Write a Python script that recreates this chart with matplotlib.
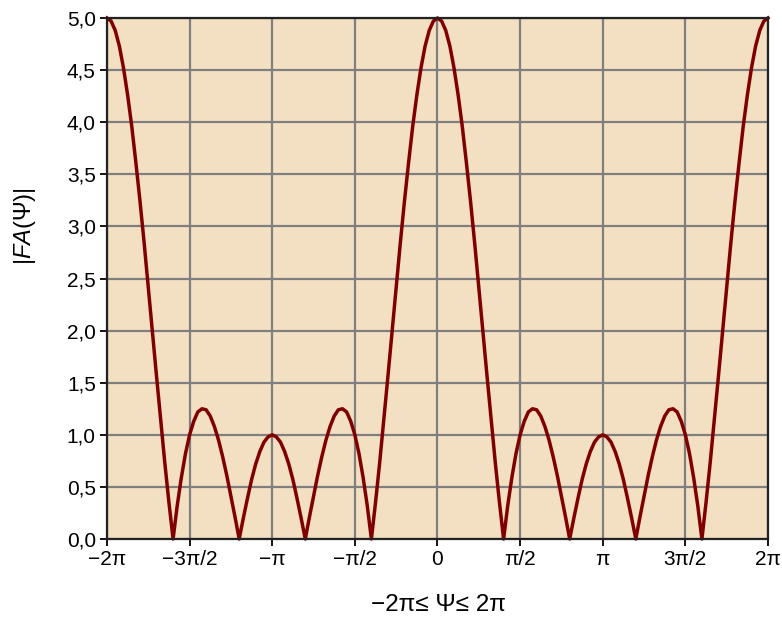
import matplotlib
matplotlib.use("Agg")
import matplotlib.pyplot as plt
import numpy as np

plt.rcParams["font.family"] = ["Liberation Sans", "DejaVu Sans"]
plt.rcParams["mathtext.fontset"] = "custom"
plt.rcParams["mathtext.it"] = "Liberation Sans:italic"
plt.rcParams["mathtext.rm"] = "Liberation Sans"

# sample grid: psi from -2pi to 2pi in steps of pi/40 (units of pi)
psi_pi = np.linspace(-2.0, 2.0, 161)

# |FA(psi)|, left to right
fa_abs = [
    5.00, 4.97, 4.88, 4.73, 4.52, 4.26, 3.96, 3.61, 3.24, 2.84,
    2.41, 1.99, 1.56, 1.14, 0.73, 0.35, 0.00, 0.32, 0.59, 0.82,
    1.00, 1.13, 1.22, 1.25, 1.24, 1.18, 1.08, 0.95, 0.79, 0.61,
    0.41, 0.21, 0.00, 0.20, 0.39, 0.57, 0.72, 0.84, 0.93, 0.98,
    1.00, 0.98, 0.93, 0.84, 0.72, 0.57, 0.39, 0.20, 0.00, 0.21,
    0.41, 0.61, 0.79, 0.95, 1.08, 1.18, 1.24, 1.25, 1.22, 1.13,
    1.00, 0.82, 0.59, 0.32, 0.00, 0.35, 0.73, 1.14, 1.56, 1.99,
    2.41, 2.84, 3.24, 3.61, 3.96, 4.26, 4.52, 4.73, 4.88, 4.97,
    5.00, 4.97, 4.88, 4.73, 4.52, 4.26, 3.96, 3.61, 3.24, 2.84,
    2.41, 1.99, 1.56, 1.14, 0.73, 0.35, 0.00, 0.32, 0.59, 0.82,
    1.00, 1.13, 1.22, 1.25, 1.24, 1.18, 1.08, 0.95, 0.79, 0.61,
    0.41, 0.21, 0.00, 0.20, 0.39, 0.57, 0.72, 0.84, 0.93, 0.98,
    1.00, 0.98, 0.93, 0.84, 0.72, 0.57, 0.39, 0.20, 0.00, 0.21,
    0.41, 0.61, 0.79, 0.95, 1.08, 1.18, 1.24, 1.25, 1.22, 1.13,
    1.00, 0.82, 0.59, 0.32, 0.00, 0.35, 0.73, 1.14, 1.56, 1.99,
    2.41, 2.84, 3.24, 3.61, 3.96, 4.26, 4.52, 4.73, 4.88, 4.97,
    5.00,
]

xtick_pos = [-2.0, -1.5, -1.0, -0.5, 0.0, 0.5, 1.0, 1.5, 2.0]
xtick_labels = ["\u22122\u03c0", "\u22123\u03c0/2", "\u2212\u03c0", "\u2212\u03c0/2", "0",
                "\u03c0/2", "\u03c0", "3\u03c0/2", "2\u03c0"]
ytick_pos = [0.0, 0.5, 1.0, 1.5, 2.0, 2.5, 3.0, 3.5, 4.0, 4.5, 5.0]
ytick_labels = [f"{v:.1f}".replace(".", ",") for v in ytick_pos]

fig = plt.figure(figsize=(7.82, 6.2), dpi=100)
ax = fig.add_axes([0.1368, 0.1306, 0.8453, 0.8404])
ax.set_facecolor("#f3e0c2")

ax.plot(psi_pi, fa_abs, color="#800000", linewidth=2.5, zorder=3,
        clip_on=False, solid_joinstyle="round")

ax.set_xlim(-2, 2)
ax.set_ylim(0, 5)
ax.set_xticks(xtick_pos)
ax.set_xticklabels(xtick_labels)
ax.set_yticks(ytick_pos)
ax.set_yticklabels(ytick_labels)
ax.grid(True, color="#7f7f7f", linewidth=1.6, zorder=1)
ax.set_axisbelow(True)

ax.tick_params(direction="out", length=5, width=1.3, color="black",
               labelsize=15, pad=3)
for sp in ax.spines.values():
    sp.set_linewidth(1.6)
    sp.set_color("#222222")
    sp.set_zorder(4)

ax.set_ylabel("|$\\it{FA}$(\u03a8)|", fontsize=17)
ax.yaxis.set_label_coords(-0.104, 0.60)
ax.set_xlabel("\u22122\u03c0\u2264 \u03a8\u2264 2\u03c0", fontsize=17.5)
ax.xaxis.set_label_coords(0.502, -0.105)

fig.savefig("out.png", dpi=100)
